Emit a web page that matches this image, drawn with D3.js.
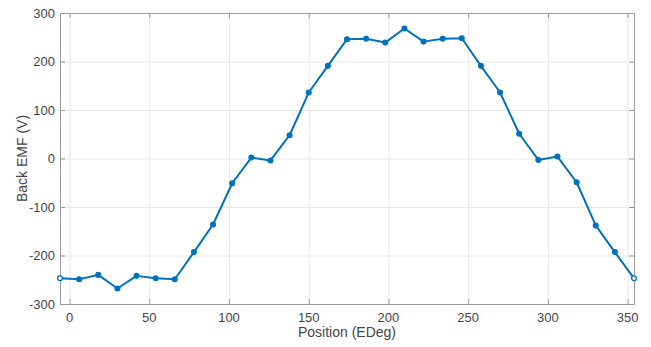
<!DOCTYPE html>
<html>
<head>
    <title>Back EMF</title>
    <script src="https://d3js.org/d3.v7.min.js"></script>
    <style>
        body {
            margin: 0;
            background: #fff;
        }
        svg text {
            font-family: "Liberation Sans", Arial, sans-serif;
            fill: #454545;
        }
        .grid line {
            stroke: #e8e8e8;
            stroke-width: 1px;
        }
        .tick-label {
            font-size: 13px;
        }
        .axis-title {
            font-size: 14px;
        }
    </style>
</head>
<body>
    <svg id="chart" width="651" height="347"></svg>

    <script>
        // 数据：位置 (EDeg) 与反电动势 (V)
        const positions = [-6, 6, 18, 30, 42, 54, 66, 78, 90, 102, 114, 126, 138, 150, 162,
            174, 186, 198, 210, 222, 234, 246, 258, 270, 282, 294, 306, 318, 330, 342, 354];
        const backEmf = [-247, -249, -240, -268, -242, -247, -249, -193, -136, -51, 2, -4, 48, 136, 191,
            246, 247, 239, 268, 241, 247, 248, 191, 136, 51, -3, 4, -49, -138, -193, -247];
        const xTicks = [0, 50, 100, 150, 200, 250, 300, 350];
        const yTicks = [-300, -200, -100, 0, 100, 200, 300];
        const xDomain = [-6, 354];
        const yDomain = [-300, 300];

        const svg = d3.select("#chart");
        const box = {left: 60, right: 634, top: 13, bottom: 304};

        const x = d3.scaleLinear().domain(xDomain).range([box.left, box.right]);
        const y = d3.scaleLinear().domain(yDomain).range([box.bottom, box.top]);

        // 网格
        const grid = svg.append("g").attr("class", "grid");
        grid.selectAll(".gx")
            .data(xTicks)
            .enter()
            .append("line")
            .attr("x1", d => x(d) + 0.5)
            .attr("x2", d => x(d) + 0.5)
            .attr("y1", box.top)
            .attr("y2", box.bottom);
        grid.selectAll(".gy")
            .data(yTicks)
            .enter()
            .append("line")
            .attr("x1", box.left)
            .attr("x2", box.right)
            .attr("y1", d => y(d) + 0.5)
            .attr("y2", d => y(d) + 0.5);

        // 坐标框（四边刻度朝内）
        const tickLen = 5;
        const axisColor = "#9a9a9a";
        svg.append("g")
            .attr("transform", `translate(0,${box.bottom})`)
            .call(d3.axisBottom(x).tickValues(xTicks).tickSize(-tickLen).tickSizeOuter(0).tickFormat(""))
            .call(g => g.selectAll("path, line").attr("stroke", axisColor));
        svg.append("g")
            .attr("transform", `translate(0,${box.top})`)
            .call(d3.axisTop(x).tickValues(xTicks).tickSize(-tickLen).tickSizeOuter(0).tickFormat(""))
            .call(g => g.selectAll("path, line").attr("stroke", axisColor));
        svg.append("g")
            .attr("transform", `translate(${box.left},0)`)
            .call(d3.axisLeft(y).tickValues(yTicks).tickSize(-tickLen).tickSizeOuter(0).tickFormat(""))
            .call(g => g.selectAll("path, line").attr("stroke", axisColor));
        svg.append("g")
            .attr("transform", `translate(${box.right},0)`)
            .call(d3.axisRight(y).tickValues(yTicks).tickSize(-tickLen).tickSizeOuter(0).tickFormat(""))
            .call(g => g.selectAll("path, line").attr("stroke", axisColor));

        // 刻度标签
        svg.selectAll(".xlabel")
            .data(xTicks)
            .enter()
            .append("text")
            .attr("class", "tick-label")
            .attr("x", d => x(d))
            .attr("y", box.bottom + 18)
            .attr("text-anchor", "middle")
            .text(d => d);
        svg.selectAll(".ylabel")
            .data(yTicks)
            .enter()
            .append("text")
            .attr("class", "tick-label")
            .attr("x", box.left - 5)
            .attr("y", d => y(d) + 4.5)
            .attr("text-anchor", "end")
            .text(d => d);

        // 轴标题
        svg.append("text")
            .attr("class", "axis-title")
            .attr("x", (box.left + box.right) / 2)
            .attr("y", 337)
            .attr("text-anchor", "middle")
            .text("Position (EDeg)");
        svg.append("text")
            .attr("class", "axis-title")
            .attr("transform", `translate(27,${(box.top + box.bottom) / 2}) rotate(-90)`)
            .attr("text-anchor", "middle")
            .text("Back EMF (V)");

        // 曲线
        const pts = positions.map((p, i) => ({p: p, v: backEmf[i]}));
        const line = d3.line().x(d => x(d.p)).y(d => y(d.v));
        svg.append("path")
            .datum(pts)
            .attr("fill", "none")
            .attr("stroke", "#0072BD")
            .attr("stroke-width", 2)
            .attr("stroke-linejoin", "round")
            .attr("d", line);

        svg.selectAll(".pt")
            .data(pts)
            .enter()
            .append("circle")
            .attr("cx", d => x(d.p))
            .attr("cy", d => y(d.v))
            .attr("r", 2.4)
            .attr("fill", (d, i) => (i === 0 || i === pts.length - 1) ? "#fff" : "#0072BD")
            .attr("stroke", "#0072BD")
            .attr("stroke-width", 1.3);
    </script>
</body>
</html>
